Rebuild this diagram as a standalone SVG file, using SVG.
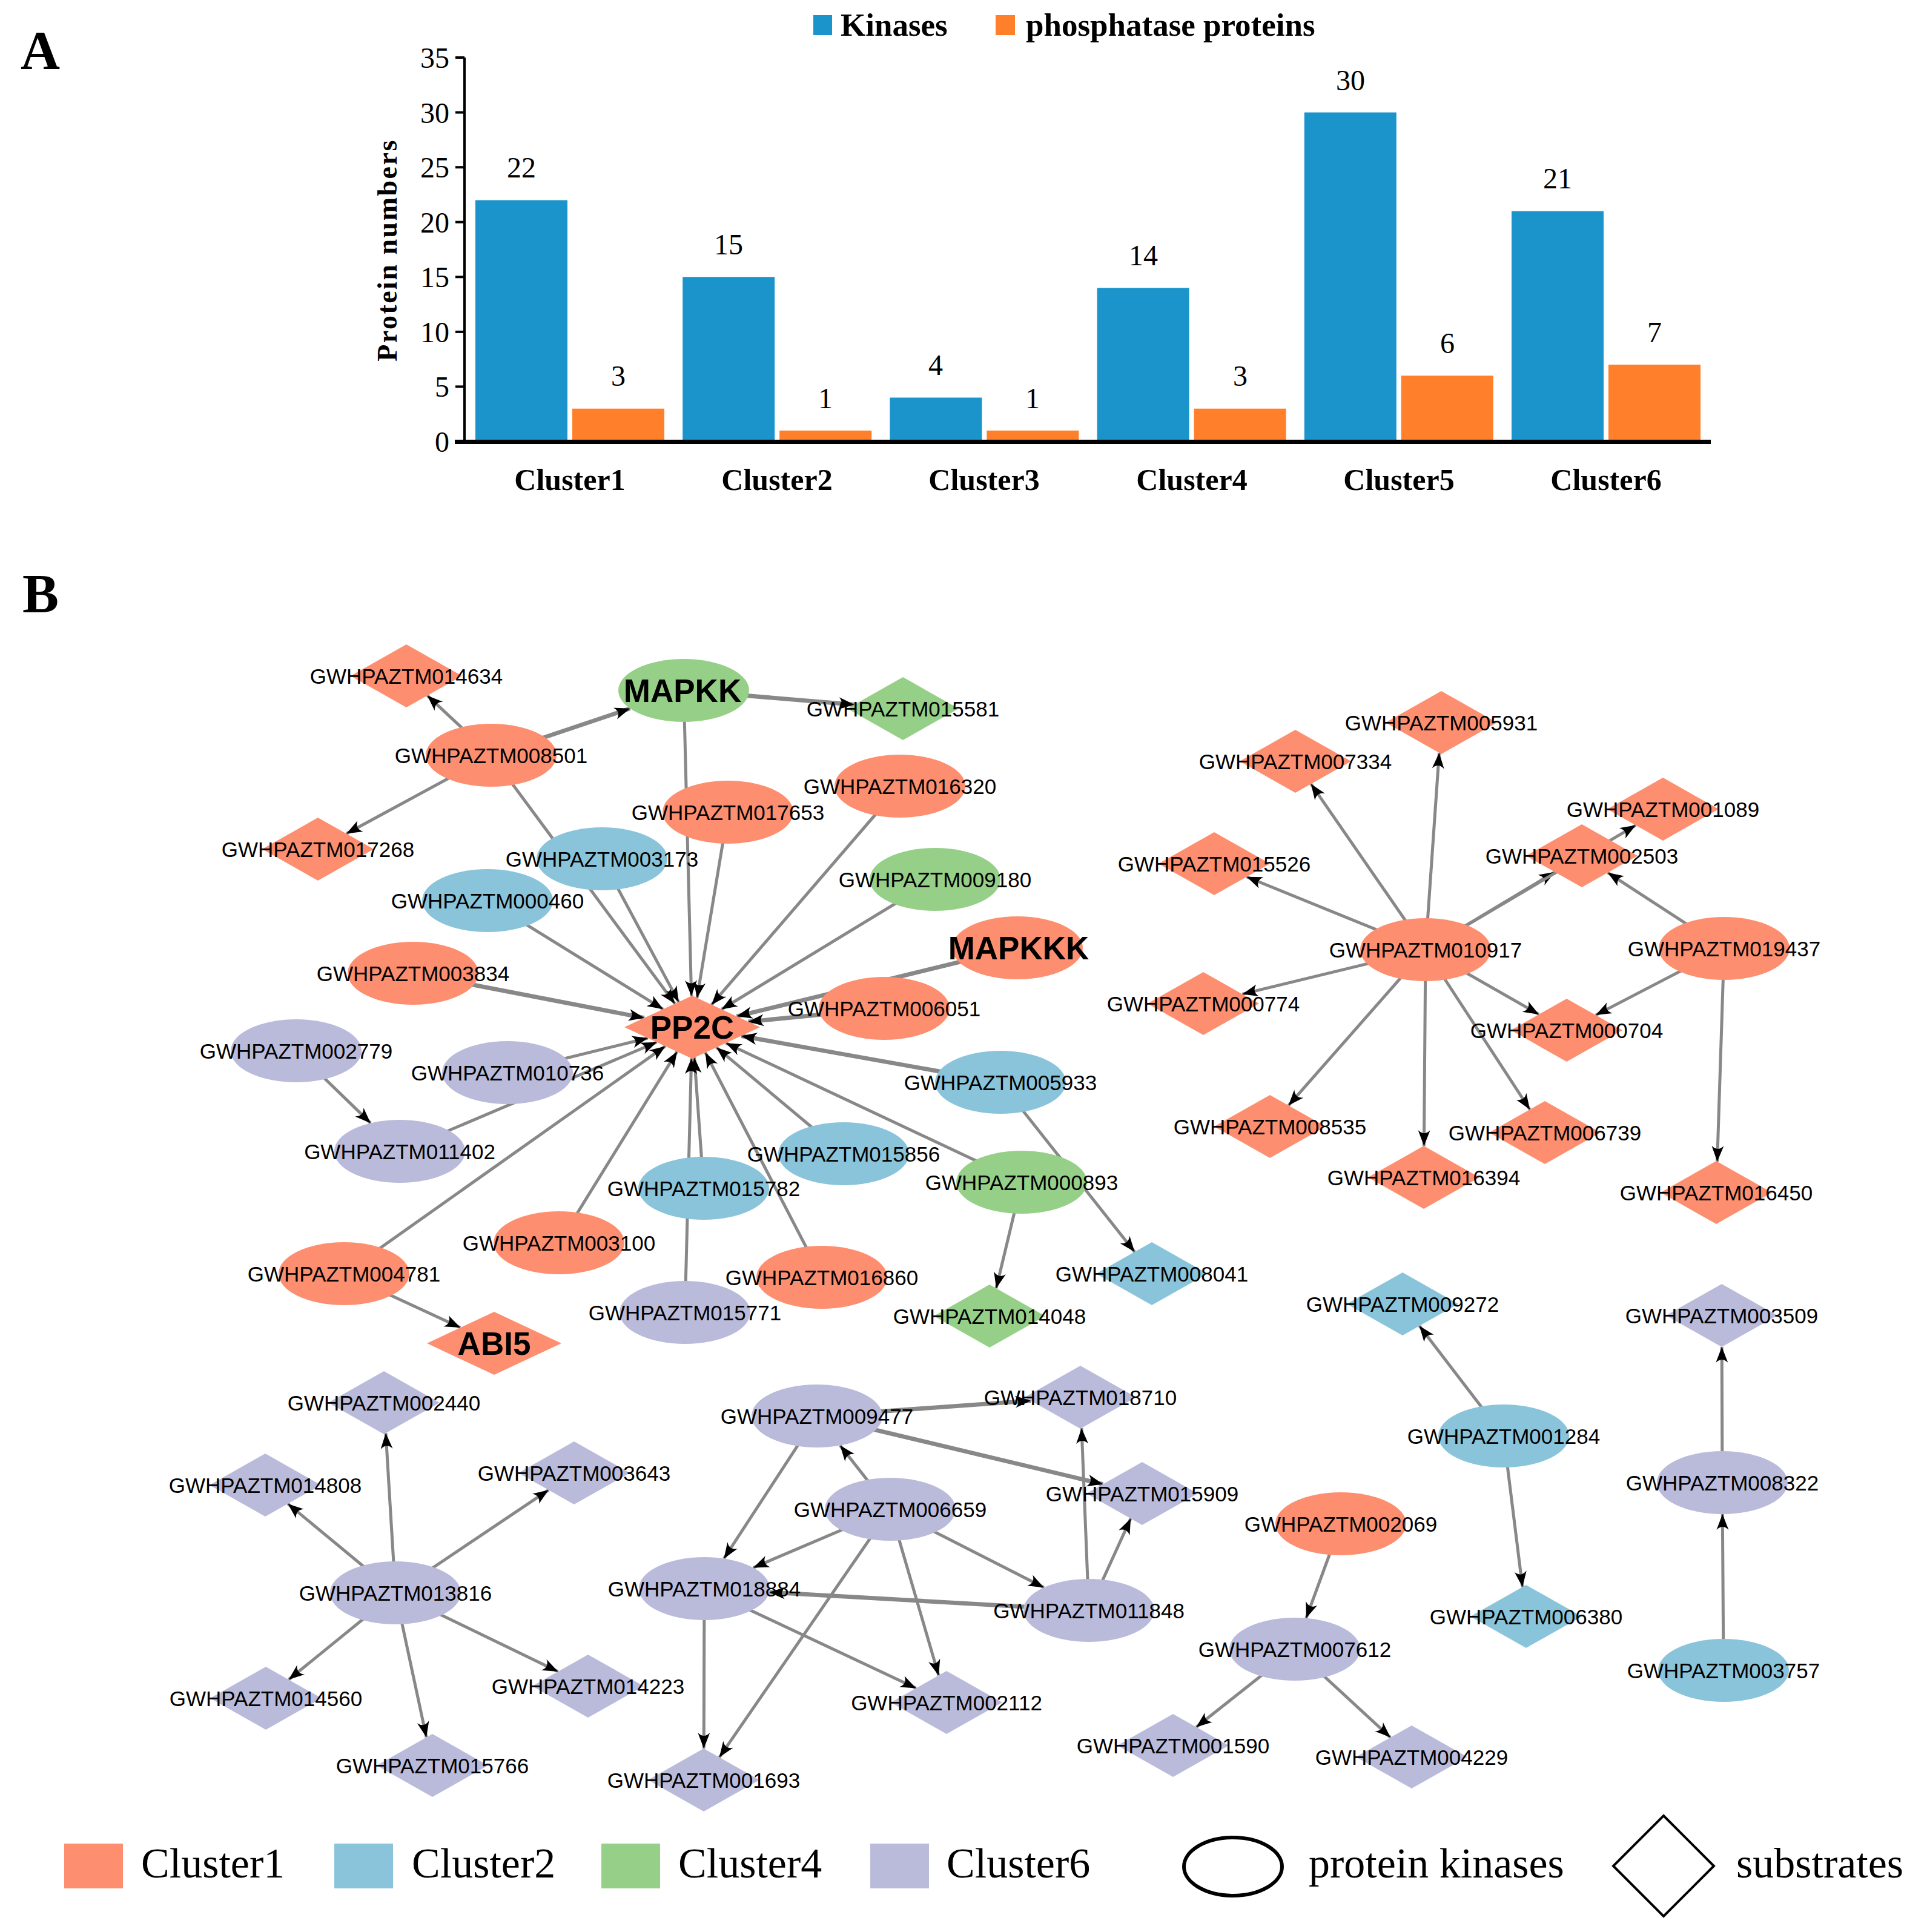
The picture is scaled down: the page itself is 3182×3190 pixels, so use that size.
<svg xmlns="http://www.w3.org/2000/svg" xmlns:xlink="http://www.w3.org/1999/xlink" width="3182" height="3190" viewBox="0 0 3182 3190">
<style>
.c1{fill:#FD8F70}.c2{fill:#8AC4DA}.c4{fill:#96D088}.c6{fill:#BABBDB}
.lb{font-family:"Liberation Sans",Arial,sans-serif;font-size:35px;text-anchor:middle;fill:#000}
.bl{font-family:"Liberation Sans",Arial,sans-serif;font-size:53px;font-weight:bold;text-anchor:middle;fill:#000}
.ser{font-family:"Liberation Serif","Times New Roman",serif;fill:#000}
.sb{font-family:"Liberation Serif","Times New Roman",serif;font-weight:bold;fill:#000}
.tk{font-size:48px;text-anchor:end}
.vl{font-size:48px;text-anchor:middle}
.cat{font-size:50px;text-anchor:middle}
.lg{font-size:70px}
#edges line{stroke:#888;stroke-width:5;marker-end:url(#ah)}
#edges line.t{stroke-width:7}
.kb{fill:#1A94CA}.po{fill:#FF7F2A}
</style>
<defs>
<marker id="ah" viewBox="0 0 26 22" refX="26" refY="11" markerWidth="26" markerHeight="22" markerUnits="userSpaceOnUse" orient="auto"><path d="M26,11 L0,1 Q10,11 0,21 Z" fill="#000"/></marker>
<ellipse id="ell" cx="0" cy="0" rx="108" ry="52"/>
<polygon id="dia" points="0,-52 92,0 0,52 -92,0"/>
</defs>
<rect width="3182" height="3190" fill="#fff"/>

<!-- Panel A -->
<g id="panelA">
<text class="sb" x="34" y="114" font-size="90">A</text>
<rect class="kb" x="1343" y="25" width="31" height="33"/>
<text class="sb" x="1388" y="59" font-size="53">Kinases</text>
<rect class="po" x="1644" y="25" width="32" height="33"/>
<text class="sb" x="1694" y="59" font-size="53">phosphatase proteins</text>
<g id="bars">
<rect class="kb" x="785" y="330.5" width="152" height="398.5"/>
<rect class="po" x="945" y="674.7" width="152" height="54.3"/>
<rect class="kb" x="1127.2" y="457.3" width="152" height="271.7"/>
<rect class="po" x="1287.2" y="710.9" width="152" height="18.1"/>
<rect class="kb" x="1469.4" y="656.5" width="152" height="72.5"/>
<rect class="po" x="1629.4" y="710.9" width="152" height="18.1"/>
<rect class="kb" x="1811.6" y="475.4" width="152" height="253.6"/>
<rect class="po" x="1971.6" y="674.7" width="152" height="54.3"/>
<rect class="kb" x="2153.8" y="185.6" width="152" height="543.4"/>
<rect class="po" x="2313.8" y="620.3" width="152" height="108.7"/>
<rect class="kb" x="2496" y="348.6" width="152" height="380.4"/>
<rect class="po" x="2656" y="602.2" width="152" height="126.8"/>
</g>
<g id="values" class="ser vl">
<text x="861" y="293">22</text><text x="1021" y="637">3</text>
<text x="1203" y="420">15</text><text x="1363" y="674">1</text>
<text x="1545" y="619">4</text><text x="1705" y="674">1</text>
<text x="1888" y="438">14</text><text x="2048" y="637">3</text>
<text x="2230" y="149">30</text><text x="2390" y="583">6</text>
<text x="2572" y="311">21</text><text x="2732" y="565">7</text>
</g>
<g id="axes">
<line x1="767" y1="95" x2="767" y2="729" stroke="#000" stroke-width="4"/>
<line x1="751" y1="729.5" x2="2825" y2="729.5" stroke="#000" stroke-width="7"/>
<g stroke="#000" stroke-width="4">
<line x1="752" y1="95" x2="767" y2="95"/><line x1="752" y1="185.6" x2="767" y2="185.6"/>
<line x1="752" y1="276.2" x2="767" y2="276.2"/><line x1="752" y1="366.7" x2="767" y2="366.7"/>
<line x1="752" y1="457.3" x2="767" y2="457.3"/><line x1="752" y1="547.9" x2="767" y2="547.9"/>
<line x1="752" y1="638.4" x2="767" y2="638.4"/>
</g>
<g class="ser tk">
<text x="742" y="112">35</text><text x="742" y="203">30</text><text x="742" y="293">25</text>
<text x="742" y="384">20</text><text x="742" y="474">15</text><text x="742" y="565">10</text>
<text x="742" y="655">5</text><text x="742" y="746">0</text>
</g>
<text class="sb" font-size="46" letter-spacing="2.5" text-anchor="middle" transform="translate(655,413) rotate(-90)">Protein numbers</text>
<g class="sb cat">
<text x="941" y="809">Cluster1</text><text x="1283" y="809">Cluster2</text>
<text x="1625" y="809">Cluster3</text><text x="1968" y="809">Cluster4</text>
<text x="2310" y="809">Cluster5</text><text x="2652" y="809">Cluster6</text>
</g>
</g>
</g>

<!-- Panel B -->
<text class="sb" x="37" y="1011" font-size="90">B</text>

<g id="edges">
<line x1="811" y1="1247" x2="705.6" y2="1148.4"/>
<line class="t" x1="811" y1="1247" x2="1040.5" y2="1169.8"/>
<line class="t" x1="1129" y1="1140" x2="1410.8" y2="1163.4"/>
<line x1="811" y1="1247" x2="572" y2="1376.5"/>
<line x1="811" y1="1247" x2="1114.4" y2="1657.3"/>
<line x1="994" y1="1418" x2="1120.7" y2="1654.4"/>
<line x1="1129" y1="1140" x2="1141.7" y2="1644.6"/>
<line x1="1202" y1="1341" x2="1151.0" y2="1647.7"/>
<line x1="1486" y1="1298" x2="1175.0" y2="1658.9"/>
<line x1="1544" y1="1452" x2="1191.5" y2="1666.5"/>
<line class="t" x1="1680" y1="1565" x2="1216.4" y2="1678.1"/>
<line class="t" x1="1460" y1="1665" x2="1235.5" y2="1687.0"/>
<line class="t" x1="682" y1="1607" x2="1063.9" y2="1680.7"/>
<line x1="805" y1="1487" x2="1095.0" y2="1666.3"/>
<line x1="838" y1="1771" x2="1069.8" y2="1714.0"/>
<line x1="660" y1="1901" x2="1084.5" y2="1720.8"/>
<line x1="489" y1="1735" x2="612.0" y2="1854.4"/>
<line x1="568" y1="2103" x2="1098.6" y2="1727.4"/>
<line x1="568" y1="2103" x2="760.2" y2="2192.1"/>
<line x1="923" y1="2052" x2="1118.0" y2="1736.4"/>
<line x1="1162" y1="1962" x2="1146.6" y2="1746.3"/>
<line x1="1131" y1="2167" x2="1141.7" y2="1747.4"/>
<line x1="1357" y1="2109" x2="1164.7" y2="1737.9"/>
<line x1="1393" y1="1905" x2="1183.0" y2="1729.4"/>
<line x1="1687" y1="1952" x2="1198.6" y2="1722.2"/>
<line class="t" x1="1652" y1="1787" x2="1223.9" y2="1710.5"/>
<line x1="1652" y1="1787" x2="1873.6" y2="2067.1"/>
<line x1="1687" y1="1952" x2="1645.0" y2="2127.2"/>
<line x1="2354" y1="1568" x2="2376.5" y2="1243.0"/>
<line x1="2354" y1="1568" x2="2164.8" y2="1294.4"/>
<line x1="2354" y1="1568" x2="2058.5" y2="1447.8"/>
<line x1="2354" y1="1568" x2="2567.4" y2="1439.8"/>
<line x1="2354" y1="1568" x2="2701.1" y2="1362.6"/>
<line x1="2354" y1="1568" x2="2051.4" y2="1641.4"/>
<line x1="2354" y1="1568" x2="2541.2" y2="1674.9"/>
<line x1="2354" y1="1568" x2="2127.6" y2="1825.3"/>
<line x1="2354" y1="1568" x2="2351.4" y2="1892.2"/>
<line x1="2354" y1="1568" x2="2526.2" y2="1832.0"/>
<line x1="2847" y1="1566" x2="2654.8" y2="1440.8"/>
<line x1="2847" y1="1566" x2="2635.0" y2="1676.1"/>
<line x1="2847" y1="1566" x2="2835.6" y2="1917.9"/>
<line x1="2483" y1="2371" x2="2343.8" y2="2189.3"/>
<line x1="2483" y1="2371" x2="2514.0" y2="2620.4"/>
<line x1="2844" y1="2448" x2="2843.2" y2="2223.9"/>
<line x1="2846" y1="2758" x2="2844.3" y2="2500.0"/>
<line x1="2214" y1="2516" x2="2156.8" y2="2671.8"/>
<line x1="2138" y1="2723" x2="1975.3" y2="2851.7"/>
<line x1="2138" y1="2723" x2="2296.0" y2="2868.8"/>
<line x1="653" y1="2630" x2="637.0" y2="2366.3"/>
<line x1="653" y1="2630" x2="475.3" y2="2482.9"/>
<line x1="653" y1="2630" x2="905.9" y2="2460.2"/>
<line x1="653" y1="2630" x2="476.7" y2="2773.3"/>
<line x1="653" y1="2630" x2="921.5" y2="2760.0"/>
<line x1="653" y1="2630" x2="704.1" y2="2868.6"/>
<line class="t" x1="1349" y1="2338" x2="1702.3" y2="2312.8"/>
<line class="t" x1="1349" y1="2338" x2="1821.3" y2="2450.6"/>
<line x1="1349" y1="2338" x2="1195.4" y2="2573.4"/>
<line x1="1470" y1="2492" x2="1387.2" y2="2386.6"/>
<line x1="1470" y1="2492" x2="1243.8" y2="2588.5"/>
<line x1="1470" y1="2492" x2="1723.8" y2="2621.2"/>
<line x1="1470" y1="2492" x2="1550.0" y2="2766.4"/>
<line x1="1470" y1="2492" x2="1187.8" y2="2901.6"/>
<line x1="1163" y1="2623" x2="1162.2" y2="2887.0"/>
<line x1="1163" y1="2623" x2="1512.8" y2="2787.4"/>
<line class="t" x1="1798" y1="2659" x2="1270.3" y2="2629.1"/>
<line x1="1798" y1="2659" x2="1786.0" y2="2357.9"/>
<line x1="1798" y1="2659" x2="1867.1" y2="2507.3"/>
</g>

<g id="nodes">
<g id="n014634"><use href="#dia" x="671" y="1116" class="c1"/><text class="lb" x="671" y="1129">GWHPAZTM014634</text></g>
<g id="nMAPKK"><use href="#ell" x="1129" y="1140" class="c4"/><text class="bl" x="1127" y="1159">MAPKK</text></g>
<g id="n015581"><use href="#dia" x="1491" y="1170" class="c4"/><text class="lb" x="1491" y="1183">GWHPAZTM015581</text></g>
<g id="n008501"><use href="#ell" x="811" y="1247" class="c1"/><text class="lb" x="811" y="1260">GWHPAZTM008501</text></g>
<g id="n017268"><use href="#dia" x="525" y="1402" class="c1"/><text class="lb" x="525" y="1415">GWHPAZTM017268</text></g>
<g id="n016320"><use href="#ell" x="1486" y="1298" class="c1"/><text class="lb" x="1486" y="1311">GWHPAZTM016320</text></g>
<g id="n017653"><use href="#ell" x="1202" y="1341" class="c1"/><text class="lb" x="1202" y="1354">GWHPAZTM017653</text></g>
<g id="n003173"><use href="#ell" x="994" y="1418" class="c2"/><text class="lb" x="994" y="1431">GWHPAZTM003173</text></g>
<g id="n009180"><use href="#ell" x="1544" y="1452" class="c4"/><text class="lb" x="1544" y="1465">GWHPAZTM009180</text></g>
<g id="n000460"><use href="#ell" x="805" y="1487" class="c2"/><text class="lb" x="805" y="1500">GWHPAZTM000460</text></g>
<g id="nMAPKKK"><use href="#ell" x="1680" y="1565" class="c1"/><text class="bl" x="1682" y="1584">MAPKKK</text></g>
<g id="n003834"><use href="#ell" x="682" y="1607" class="c1"/><text class="lb" x="682" y="1620">GWHPAZTM003834</text></g>
<g id="n006051"><use href="#ell" x="1460" y="1665" class="c1"/><text class="lb" x="1460" y="1678">GWHPAZTM006051</text></g>
<g id="nPP2C"><polygon points="1143,1644 1255,1696 1143,1748 1031,1696" class="c1"/><text class="bl" x="1143" y="1715">PP2C</text></g>
<g id="n002779"><use href="#ell" x="489" y="1735" class="c6"/><text class="lb" x="489" y="1748">GWHPAZTM002779</text></g>
<g id="n010736"><use href="#ell" x="838" y="1771" class="c6"/><text class="lb" x="838" y="1784">GWHPAZTM010736</text></g>
<g id="n005933"><use href="#ell" x="1652" y="1787" class="c2"/><text class="lb" x="1652" y="1800">GWHPAZTM005933</text></g>
<g id="n011402"><use href="#ell" x="660" y="1901" class="c6"/><text class="lb" x="660" y="1914">GWHPAZTM011402</text></g>
<g id="n015856"><use href="#ell" x="1393" y="1905" class="c2"/><text class="lb" x="1393" y="1918">GWHPAZTM015856</text></g>
<g id="n000893"><use href="#ell" x="1687" y="1952" class="c4"/><text class="lb" x="1687" y="1965">GWHPAZTM000893</text></g>
<g id="n015782"><use href="#ell" x="1162" y="1962" class="c2"/><text class="lb" x="1162" y="1975">GWHPAZTM015782</text></g>
<g id="n003100"><use href="#ell" x="923" y="2052" class="c1"/><text class="lb" x="923" y="2065">GWHPAZTM003100</text></g>
<g id="n004781"><use href="#ell" x="568" y="2103" class="c1"/><text class="lb" x="568" y="2116">GWHPAZTM004781</text></g>
<g id="n008041"><use href="#dia" x="1902" y="2103" class="c2"/><text class="lb" x="1902" y="2116">GWHPAZTM008041</text></g>
<g id="n016860"><use href="#ell" x="1357" y="2109" class="c1"/><text class="lb" x="1357" y="2122">GWHPAZTM016860</text></g>
<g id="n015771"><use href="#ell" x="1131" y="2167" class="c6"/><text class="lb" x="1131" y="2180">GWHPAZTM015771</text></g>
<g id="n014048"><use href="#dia" x="1634" y="2173" class="c4"/><text class="lb" x="1634" y="2186">GWHPAZTM014048</text></g>
<g id="nABI5"><polygon points="816,2166 927,2218 816,2270 705,2218" class="c1"/><text class="bl" x="816" y="2237">ABI5</text></g>

<g id="n005931"><use href="#dia" x="2380" y="1193" class="c1"/><text class="lb" x="2380" y="1206">GWHPAZTM005931</text></g>
<g id="n007334"><use href="#dia" x="2139" y="1257" class="c1"/><text class="lb" x="2139" y="1270">GWHPAZTM007334</text></g>
<g id="n001089"><use href="#dia" x="2746" y="1336" class="c1"/><text class="lb" x="2746" y="1349">GWHPAZTM001089</text></g>
<g id="n002503"><use href="#dia" x="2612" y="1413" class="c1"/><text class="lb" x="2612" y="1426">GWHPAZTM002503</text></g>
<g id="n015526"><use href="#dia" x="2005" y="1426" class="c1"/><text class="lb" x="2005" y="1439">GWHPAZTM015526</text></g>
<g id="n010917"><use href="#ell" x="2354" y="1568" class="c1"/><text class="lb" x="2354" y="1581">GWHPAZTM010917</text></g>
<g id="n019437"><use href="#ell" x="2847" y="1566" class="c1"/><text class="lb" x="2847" y="1579">GWHPAZTM019437</text></g>
<g id="n000774"><use href="#dia" x="1987" y="1657" class="c1"/><text class="lb" x="1987" y="1670">GWHPAZTM000774</text></g>
<g id="n000704"><use href="#dia" x="2587" y="1701" class="c1"/><text class="lb" x="2587" y="1714">GWHPAZTM000704</text></g>
<g id="n008535"><use href="#dia" x="2097" y="1860" class="c1"/><text class="lb" x="2097" y="1873">GWHPAZTM008535</text></g>
<g id="n006739"><use href="#dia" x="2551" y="1870" class="c1"/><text class="lb" x="2551" y="1883">GWHPAZTM006739</text></g>
<g id="n016394"><use href="#dia" x="2351" y="1944" class="c1"/><text class="lb" x="2351" y="1957">GWHPAZTM016394</text></g>
<g id="n016450"><use href="#dia" x="2834" y="1969" class="c1"/><text class="lb" x="2834" y="1982">GWHPAZTM016450</text></g>

<g id="n009272"><use href="#dia" x="2316" y="2153" class="c2"/><text class="lb" x="2316" y="2166">GWHPAZTM009272</text></g>
<g id="n003509"><use href="#dia" x="2843" y="2172" class="c6"/><text class="lb" x="2843" y="2185">GWHPAZTM003509</text></g>
<g id="n001284"><use href="#ell" x="2483" y="2371" class="c2"/><text class="lb" x="2483" y="2384">GWHPAZTM001284</text></g>
<g id="n008322"><use href="#ell" x="2844" y="2448" class="c6"/><text class="lb" x="2844" y="2461">GWHPAZTM008322</text></g>
<g id="n002069"><use href="#ell" x="2214" y="2516" class="c1"/><text class="lb" x="2214" y="2529">GWHPAZTM002069</text></g>
<g id="n006380"><use href="#dia" x="2520" y="2669" class="c2"/><text class="lb" x="2520" y="2682">GWHPAZTM006380</text></g>
<g id="n007612"><use href="#ell" x="2138" y="2723" class="c6"/><text class="lb" x="2138" y="2736">GWHPAZTM007612</text></g>
<g id="n003757"><use href="#ell" x="2846" y="2758" class="c2"/><text class="lb" x="2846" y="2771">GWHPAZTM003757</text></g>
<g id="n001590"><use href="#dia" x="1937" y="2882" class="c6"/><text class="lb" x="1937" y="2895">GWHPAZTM001590</text></g>
<g id="n004229"><use href="#dia" x="2331" y="2901" class="c6"/><text class="lb" x="2331" y="2914">GWHPAZTM004229</text></g>

<g id="n002440"><use href="#dia" x="634" y="2316" class="c6"/><text class="lb" x="634" y="2329">GWHPAZTM002440</text></g>
<g id="n014808"><use href="#dia" x="438" y="2452" class="c6"/><text class="lb" x="438" y="2465">GWHPAZTM014808</text></g>
<g id="n003643"><use href="#dia" x="948" y="2432" class="c6"/><text class="lb" x="948" y="2445">GWHPAZTM003643</text></g>
<g id="n013816"><use href="#ell" x="653" y="2630" class="c6"/><text class="lb" x="653" y="2643">GWHPAZTM013816</text></g>
<g id="n014560"><use href="#dia" x="439" y="2804" class="c6"/><text class="lb" x="439" y="2817">GWHPAZTM014560</text></g>
<g id="n014223"><use href="#dia" x="971" y="2784" class="c6"/><text class="lb" x="971" y="2797">GWHPAZTM014223</text></g>
<g id="n015766"><use href="#dia" x="714" y="2915" class="c6"/><text class="lb" x="714" y="2928">GWHPAZTM015766</text></g>
<g id="n018710"><use href="#dia" x="1784" y="2307" class="c6"/><text class="lb" x="1784" y="2320">GWHPAZTM018710</text></g>
<g id="n009477"><use href="#ell" x="1349" y="2338" class="c6"/><text class="lb" x="1349" y="2351">GWHPAZTM009477</text></g>
<g id="n015909"><use href="#dia" x="1886" y="2466" class="c6"/><text class="lb" x="1886" y="2479">GWHPAZTM015909</text></g>
<g id="n006659"><use href="#ell" x="1470" y="2492" class="c6"/><text class="lb" x="1470" y="2505">GWHPAZTM006659</text></g>
<g id="n011848"><use href="#ell" x="1798" y="2659" class="c6"/><text class="lb" x="1798" y="2672">GWHPAZTM011848</text></g>
<g id="n018884"><use href="#ell" x="1163" y="2623" class="c6"/><text class="lb" x="1163" y="2636">GWHPAZTM018884</text></g>
<g id="n002112"><use href="#dia" x="1563" y="2811" class="c6"/><text class="lb" x="1563" y="2824">GWHPAZTM002112</text></g>
<g id="n001693"><use href="#dia" x="1162" y="2939" class="c6"/><text class="lb" x="1162" y="2952">GWHPAZTM001693</text></g>
</g>

<g id="legend">
<rect class="c1" x="106" y="3044" width="97" height="74"/>
<text class="ser lg" x="233" y="3100">Cluster1</text>
<rect class="c2" x="552" y="3044" width="97" height="74"/>
<text class="ser lg" x="680" y="3100">Cluster2</text>
<rect class="c4" x="993" y="3044" width="97" height="74"/>
<text class="ser lg" x="1120" y="3100">Cluster4</text>
<rect class="c6" x="1437" y="3044" width="97" height="74"/>
<text class="ser lg" x="1563" y="3100">Cluster6</text>
<ellipse cx="2036" cy="3082" rx="81" ry="48" fill="none" stroke="#000" stroke-width="6"/>
<text class="ser lg" x="2161" y="3100">protein kinases</text>
<polygon points="2747,2998 2830,3081 2747,3164 2664,3081" fill="none" stroke="#000" stroke-width="4"/>
<text class="ser lg" x="2867" y="3100">substrates</text>
</g>
</svg>
